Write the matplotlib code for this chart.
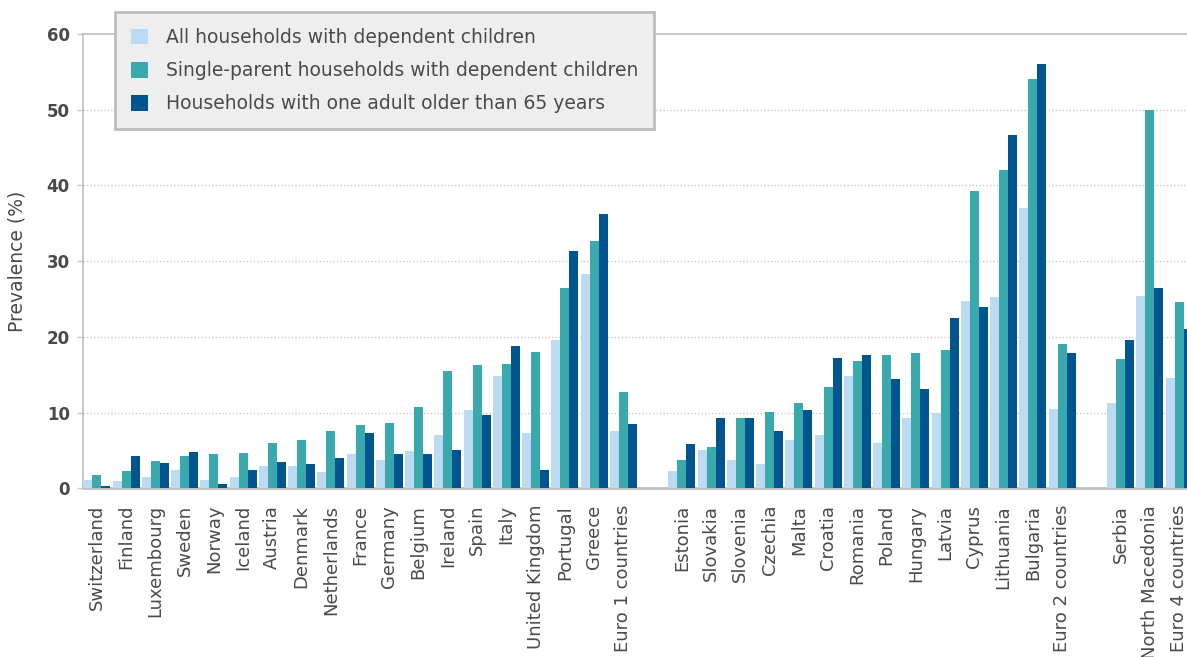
import matplotlib
matplotlib.use("Agg")
import matplotlib.pyplot as plt
import numpy as np

# country groups (gaps between groups)
euro1 = ["Switzerland", "Finland", "Luxembourg", "Sweden", "Norway", "Iceland",
         "Austria", "Denmark", "Netherlands", "France", "Germany", "Belgium",
         "Ireland", "Spain", "Italy", "United Kingdom", "Portugal", "Greece",
         "Euro 1 countries"]
euro2 = ["Estonia", "Slovakia", "Slovenia", "Czechia", "Malta", "Croatia",
         "Romania", "Poland", "Hungary", "Latvia", "Cyprus", "Lithuania",
         "Bulgaria", "Euro 2 countries"]
euro4 = ["Serbia", "North Macedonia", "Euro 4 countries"]

all_children = [1.1, 1.0, 1.5, 2.4, 1.1, 1.5, 2.9, 2.9, 2.2, 4.5, 3.7, 4.9,
                7.0, 10.4, 14.8, 7.3, 19.6, 28.3, 7.6,
                2.3, 5.1, 3.7, 3.2, 6.4, 7.0, 14.8, 6.0, 9.3, 10.0, 24.8, 25.3,
                37.0, 10.5,
                11.3, 25.4, 14.6]
single_parent = [1.8, 2.3, 3.6, 4.3, 4.5, 4.7, 6.0, 6.4, 7.6, 8.4, 8.6, 10.7,
                 15.5, 16.3, 16.4, 18.0, 26.5, 32.6, 12.7,
                 3.7, 5.5, 9.3, 10.1, 11.3, 13.4, 16.8, 17.6, 17.9, 18.2, 39.2,
                 42.0, 54.1, 19.0,
                 17.1, 50.0, 24.6]
older_65 = [0.3, 4.3, 3.3, 4.8, 0.6, 2.4, 3.5, 3.2, 4.0, 7.3, 4.5, 4.5,
            5.1, 9.7, 18.8, 2.4, 31.3, 36.2, 8.5,
            5.8, 9.3, 9.3, 7.6, 10.4, 17.2, 17.6, 14.4, 13.1, 22.5, 23.9, 46.7,
            56.1, 17.9,
            19.6, 26.5, 21.1]

series_labels = ["All households with dependent children",
                 "Single-parent households with dependent children",
                 "Households with one adult older than 65 years"]
colors = ["#bcdaf2", "#3aa9ad", "#00558f"]

plt.rcParams["font.family"] = ["DejaVu Sans"]
TXT = "#4a4a4a"
GRID = "#c8c8c8"

countries, pos = [], []
p = 0
for grp in (euro1, euro2, euro4):
    for c in grp:
        countries.append(c)
        pos.append(p)
        p += 1
    p += 1
pos = np.array(pos, dtype=float)

W, H = 1187, 657
fig = plt.figure(figsize=(W / 100, H / 100), dpi=100)
ax = fig.add_axes([82.7 / W, 1 - 488.3 / H, 1 - 82.7 / W, (488.3 - 34) / H])

bw = 0.3077
for k, (vals, col, lab) in enumerate(zip([all_children, single_parent, older_65],
                                         colors, series_labels)):
    ax.bar(pos + (k - 1) * bw, vals, width=bw, color=col, label=lab,
           linewidth=0, zorder=3)

ax.set_xlim(-0.482, 37.27)
ax.set_ylim(0, 60)
ax.set_yticks(range(0, 61, 10))
ax.set_yticklabels([str(v) for v in range(0, 61, 10)], fontsize=12,
                   fontweight="bold", color=TXT)
for y in range(10, 60, 10):
    ax.axhline(y, color=GRID, lw=1, ls=(0, (1, 1.5)), zorder=1)
ax.axhline(60, color=GRID, lw=1.5, zorder=1, clip_on=False)

ax.set_xticks(pos)
ax.set_xticklabels(countries, rotation=90, fontsize=13, color=TXT, va="top")
ax.tick_params(axis="x", length=0, pad=12)
ax.tick_params(axis="y", length=4.3, color=GRID, width=1, pad=5)

for s in ["top", "right"]:
    ax.spines[s].set_visible(False)
ax.spines["left"].set_color("#c0c0c0")
ax.spines["left"].set_linewidth(1.2)
ax.spines["bottom"].set_color("#c0c0c0")
ax.spines["bottom"].set_linewidth(2)

ax.set_ylabel("Prevalence (%)", fontsize=13.5, color=TXT)
ax.yaxis.set_label_coords(-0.051, 0.5)

leg = fig.legend(loc="upper left", bbox_to_anchor=(115 / W, 1 - 12 / H),
                 fontsize=13.5, frameon=True, fancybox=False, framealpha=1,
                 facecolor="#eeeeee", edgecolor="#bdbdbd", borderpad=0.85,
                 labelspacing=0.76, handlelength=0.9, handleheight=0.9,
                 handletextpad=0.96, borderaxespad=0)
leg.get_frame().set_linewidth(2)
for t in leg.get_texts():
    t.set_color(TXT)

fig.savefig("out.png", dpi=100)
